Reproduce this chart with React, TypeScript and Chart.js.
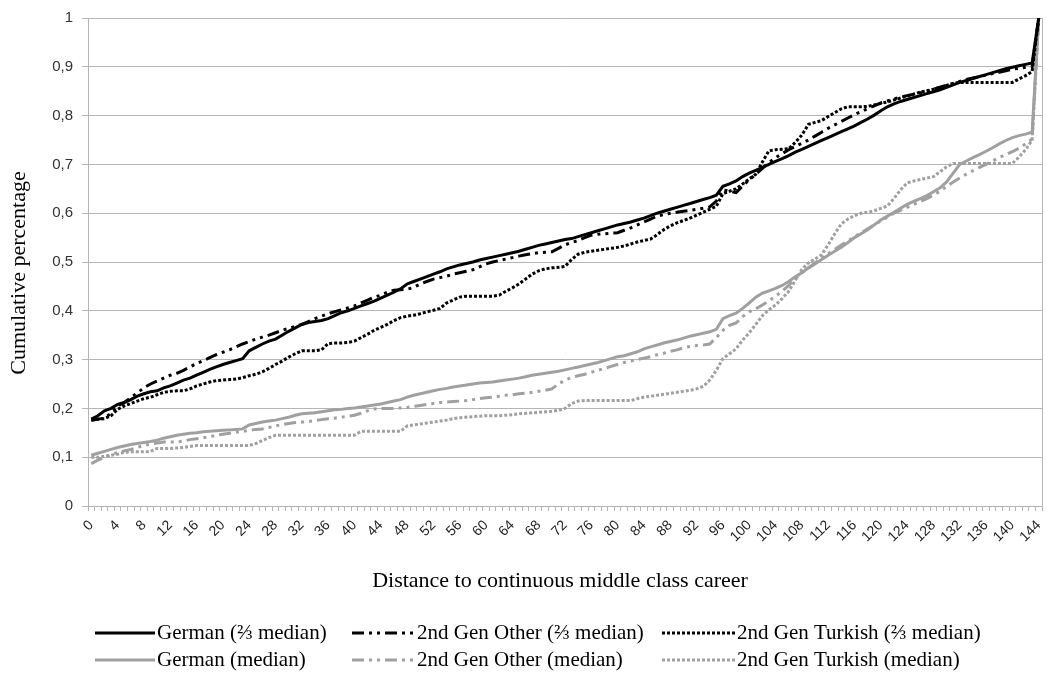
import React, { useEffect, useRef } from 'react';
import { Chart, registerables } from 'chart.js';

Chart.register(...registerables);

const categories: string[] = Array.from({ length: 145 }, (_, i) => String(i));

const germanTwoThirds = [
  0.178, 0.185, 0.195, 0.2, 0.208, 0.212, 0.218, 0.225, 0.23, 0.234,
  0.236, 0.242, 0.246, 0.252, 0.258, 0.262, 0.268, 0.274, 0.28, 0.285,
  0.29, 0.294, 0.298, 0.302, 0.318, 0.325, 0.332, 0.338, 0.342, 0.35,
  0.358, 0.365, 0.372, 0.376, 0.378, 0.38, 0.384, 0.39, 0.396, 0.4,
  0.405, 0.41, 0.415, 0.42, 0.426, 0.432, 0.438, 0.445, 0.455, 0.46,
  0.465, 0.47, 0.475, 0.48, 0.486, 0.49, 0.494, 0.497, 0.5, 0.504,
  0.507, 0.51, 0.513, 0.516, 0.519, 0.522, 0.526, 0.53, 0.534, 0.537,
  0.54, 0.543, 0.546, 0.548, 0.552, 0.556, 0.56, 0.564, 0.568, 0.572,
  0.576, 0.579, 0.582, 0.586, 0.59, 0.595, 0.6, 0.604, 0.608, 0.612,
  0.616, 0.62, 0.624, 0.628, 0.632, 0.637, 0.655, 0.66, 0.666, 0.675,
  0.682, 0.688, 0.694, 0.7, 0.706, 0.712, 0.718, 0.725, 0.731, 0.737,
  0.743, 0.749, 0.755, 0.761, 0.767, 0.773, 0.779, 0.786, 0.793, 0.801,
  0.81, 0.818, 0.824, 0.829, 0.833, 0.837, 0.841, 0.845, 0.849, 0.853,
  0.858, 0.863, 0.868, 0.872, 0.876, 0.88, 0.884, 0.888, 0.892, 0.896,
  0.899, 0.902, 0.905, 0.908, 1.0,
];

const otherTwoThirds = [
  0.175, 0.178, 0.18, 0.19, 0.205, 0.212, 0.222, 0.232, 0.242, 0.25,
  0.256, 0.262, 0.268, 0.272, 0.278, 0.285, 0.292, 0.298, 0.304, 0.31,
  0.315, 0.32, 0.326, 0.332, 0.337, 0.342, 0.346, 0.35, 0.355, 0.36,
  0.364, 0.368, 0.372, 0.378, 0.384, 0.389, 0.394, 0.398, 0.402, 0.406,
  0.41, 0.416, 0.422, 0.428, 0.432, 0.438, 0.442, 0.443, 0.444, 0.448,
  0.455, 0.46, 0.465, 0.468, 0.471, 0.475, 0.478, 0.481, 0.484, 0.49,
  0.496, 0.5, 0.503, 0.506, 0.509, 0.512, 0.515, 0.517, 0.519, 0.52,
  0.521, 0.528, 0.535, 0.54, 0.544, 0.55, 0.555, 0.557, 0.558, 0.559,
  0.56, 0.565, 0.57, 0.576, 0.582, 0.588, 0.594, 0.597, 0.6, 0.602,
  0.604, 0.606, 0.608, 0.61, 0.613, 0.625, 0.648, 0.645, 0.642, 0.656,
  0.668, 0.68, 0.692, 0.704, 0.714, 0.722, 0.73, 0.737, 0.743, 0.75,
  0.758, 0.766, 0.774, 0.781, 0.788, 0.795, 0.802, 0.808, 0.814, 0.82,
  0.826, 0.83, 0.834, 0.838, 0.841, 0.844, 0.847, 0.85, 0.854, 0.858,
  0.862, 0.866, 0.87, 0.874, 0.877, 0.88, 0.883, 0.886, 0.889, 0.892,
  0.895, 0.897, 0.899, 0.9, 1.0,
];

const turkishTwoThirds = [
  0.178, 0.178, 0.179, 0.185, 0.198, 0.205, 0.21, 0.215, 0.22, 0.223,
  0.228, 0.233, 0.235, 0.236, 0.236, 0.24, 0.246, 0.25, 0.254, 0.257,
  0.258, 0.259, 0.26, 0.263, 0.267, 0.27, 0.275, 0.282, 0.29, 0.297,
  0.305, 0.312, 0.318, 0.318, 0.318, 0.32, 0.333, 0.334, 0.334, 0.335,
  0.338, 0.345, 0.352, 0.36, 0.366, 0.372, 0.38, 0.386, 0.389, 0.391,
  0.394, 0.398, 0.401, 0.405, 0.416, 0.422, 0.428, 0.43, 0.43, 0.43,
  0.43, 0.43, 0.432, 0.44, 0.447, 0.455, 0.465, 0.475, 0.482, 0.486,
  0.488, 0.489, 0.491, 0.505, 0.516, 0.52, 0.522, 0.524, 0.526, 0.528,
  0.53, 0.533, 0.537, 0.541, 0.544, 0.547, 0.556, 0.566, 0.574, 0.58,
  0.585, 0.59, 0.596, 0.602, 0.608, 0.614, 0.64, 0.645, 0.65, 0.66,
  0.67, 0.68, 0.705, 0.728, 0.73, 0.731, 0.732, 0.745, 0.76, 0.782,
  0.786, 0.79, 0.798, 0.806, 0.814, 0.818, 0.818, 0.818, 0.819, 0.822,
  0.825, 0.828, 0.832, 0.836, 0.84, 0.844, 0.848, 0.851, 0.854, 0.858,
  0.862, 0.866, 0.868, 0.868, 0.868, 0.868, 0.868, 0.868, 0.868, 0.868,
  0.868, 0.875, 0.882, 0.89, 1.0,
];

const germanMedian = [
  0.104, 0.108, 0.112, 0.116, 0.12, 0.123, 0.126, 0.128, 0.13, 0.132,
  0.135, 0.139, 0.142, 0.145, 0.147, 0.149, 0.15, 0.152, 0.153, 0.154,
  0.155, 0.156, 0.157, 0.158, 0.166, 0.169, 0.172, 0.174, 0.176, 0.179,
  0.182, 0.186, 0.189, 0.19, 0.191, 0.193, 0.195, 0.197, 0.198, 0.2,
  0.201, 0.203, 0.205, 0.207, 0.209, 0.212, 0.215, 0.218, 0.223, 0.227,
  0.23, 0.233, 0.236, 0.239, 0.241, 0.244, 0.246, 0.248, 0.25, 0.252,
  0.253, 0.254, 0.256, 0.258, 0.26, 0.262, 0.265, 0.268, 0.27, 0.272,
  0.274, 0.276, 0.279, 0.282, 0.285, 0.288, 0.291, 0.294, 0.298, 0.302,
  0.306, 0.308, 0.312, 0.316, 0.322, 0.326, 0.33, 0.334, 0.337, 0.34,
  0.344, 0.348, 0.351, 0.354, 0.357, 0.362, 0.384, 0.39, 0.395, 0.405,
  0.416, 0.428, 0.436, 0.441, 0.446, 0.452, 0.46, 0.47, 0.478, 0.488,
  0.496, 0.505, 0.514, 0.522, 0.53, 0.54, 0.55, 0.558, 0.566, 0.576,
  0.586, 0.594, 0.602, 0.61, 0.618, 0.624, 0.63, 0.636, 0.644, 0.652,
  0.664, 0.682, 0.7, 0.707, 0.714, 0.72, 0.727, 0.734, 0.742, 0.749,
  0.755, 0.759, 0.762, 0.766, 1.0,
];

const otherMedian = [
  0.087, 0.094, 0.1, 0.105, 0.11, 0.113, 0.116, 0.12, 0.124, 0.127,
  0.129, 0.131, 0.131, 0.131, 0.133, 0.136, 0.138, 0.14, 0.142, 0.145,
  0.147, 0.149, 0.151, 0.153, 0.155, 0.157, 0.158, 0.161, 0.164, 0.167,
  0.169, 0.171, 0.172, 0.173, 0.175, 0.177, 0.179, 0.18, 0.182, 0.184,
  0.186, 0.19, 0.195, 0.199, 0.2, 0.2, 0.2, 0.201, 0.202, 0.204,
  0.206, 0.208, 0.21, 0.212, 0.213, 0.214, 0.215, 0.216, 0.218, 0.22,
  0.222, 0.223, 0.225, 0.227, 0.228, 0.23, 0.231, 0.233, 0.235, 0.237,
  0.24, 0.25, 0.258, 0.263, 0.267, 0.27, 0.274, 0.278, 0.282, 0.286,
  0.29, 0.294, 0.297, 0.3, 0.303, 0.306, 0.31, 0.313, 0.317, 0.32,
  0.324, 0.327, 0.329, 0.33, 0.332, 0.345, 0.36, 0.37, 0.375, 0.388,
  0.398, 0.404, 0.412, 0.42, 0.43, 0.44, 0.452, 0.466, 0.478, 0.488,
  0.498, 0.508, 0.517, 0.526, 0.535, 0.543, 0.552, 0.56, 0.568, 0.576,
  0.584, 0.592, 0.6, 0.606, 0.612, 0.618, 0.624, 0.63, 0.637, 0.645,
  0.655, 0.664, 0.672, 0.68, 0.687, 0.694, 0.7, 0.707, 0.714, 0.72,
  0.726, 0.733, 0.742, 0.752, 1.0,
];

const turkishMedian = [
  0.1, 0.1, 0.102, 0.104, 0.106, 0.11, 0.111, 0.111, 0.111, 0.112,
  0.118, 0.118, 0.118, 0.119, 0.12, 0.122, 0.124, 0.124, 0.124, 0.124,
  0.124, 0.124, 0.124, 0.124, 0.124, 0.128, 0.134, 0.14, 0.145, 0.145,
  0.145, 0.145, 0.145, 0.145, 0.145, 0.145, 0.145, 0.145, 0.145, 0.145,
  0.145, 0.153, 0.153, 0.153, 0.153, 0.153, 0.153, 0.153, 0.164, 0.166,
  0.168, 0.17, 0.172, 0.174, 0.176, 0.179, 0.181, 0.182, 0.183, 0.184,
  0.185, 0.185, 0.185, 0.186, 0.187, 0.189, 0.19, 0.191, 0.192, 0.193,
  0.194, 0.196, 0.2, 0.21, 0.215, 0.216, 0.216, 0.216, 0.216, 0.216,
  0.216, 0.216, 0.216, 0.22, 0.223, 0.225, 0.227, 0.229, 0.231, 0.233,
  0.235, 0.237, 0.24, 0.245, 0.258, 0.278, 0.302, 0.312, 0.322, 0.34,
  0.355, 0.372, 0.39, 0.402, 0.412, 0.425, 0.44, 0.462, 0.485, 0.498,
  0.506, 0.515, 0.535, 0.558, 0.578, 0.588, 0.595, 0.6, 0.602, 0.605,
  0.61, 0.615, 0.63, 0.648, 0.662, 0.666, 0.669, 0.672, 0.675, 0.685,
  0.695, 0.702, 0.702, 0.702, 0.702, 0.702, 0.702, 0.702, 0.702, 0.702,
  0.702, 0.715, 0.73, 0.75, 1.0,
];

const seriesLabels = [
  'German (⅔ median)',
  '2nd Gen Other (⅔ median)',
  '2nd Gen Turkish (⅔ median)',
  'German (median)',
  '2nd Gen Other (median)',
  '2nd Gen Turkish (median)',
];

const yAxisTitle = 'Cumulative percentage';
const xAxisTitle = 'Distance to continuous middle class career';

const BLACK = '#000000';
const GREY = '#a0a0a0';
const GRID = '#b5b5b5';
const DASH_DOT = [12, 5, 3, 5, 3, 5];
const DOTTED = [3, 2];
const SERIF = '"Liberation Serif", "Times New Roman", serif';
const SANS = '"Liberation Sans", Arial, sans-serif';

const fmtComma = (v: number) => {
  const r = Math.round(v * 10) / 10;
  return String(r).replace('.', ',');
};

const overlayPlugin = {
  id: 'overlay',
  afterDraw(chart: any) {
    const { ctx, chartArea } = chart;
    ctx.save();
    // right border of plot area
    ctx.strokeStyle = GRID;
    ctx.lineWidth = 1;
    ctx.setLineDash([]);
    ctx.beginPath();
    ctx.moveTo(chartArea.right + 0.5, chartArea.top);
    ctx.lineTo(chartArea.right + 0.5, chartArea.bottom);
    ctx.stroke();

    // axis titles
    ctx.fillStyle = '#000';
    ctx.font = `22px ${SERIF}`;
    ctx.textAlign = 'center';
    ctx.textBaseline = 'middle';
    ctx.fillText(xAxisTitle, 560, 581);
    ctx.save();
    ctx.translate(19, 273);
    ctx.rotate(-Math.PI / 2);
    ctx.fillText(yAxisTitle, 0, 0);
    ctx.restore();

    // legend
    ctx.font = `21px ${SERIF}`;
    const lineStart = [95, 352, 662];
    const lineEnd = [155, 415, 735];
    const rowY = [633, 660];
    chart.data.datasets.forEach((ds: any, i: number) => {
      const col = i % 3;
      const row = Math.floor(i / 3);
      const y = rowY[row];
      ctx.strokeStyle = ds.borderColor;
      ctx.lineWidth = ds.borderWidth;
      ctx.setLineDash(ds.borderDash || []);
      ctx.beginPath();
      ctx.moveTo(lineStart[col], y);
      ctx.lineTo(lineEnd[col], y);
      ctx.stroke();
      ctx.setLineDash([]);
      ctx.fillStyle = '#000';
      ctx.textAlign = 'left';
      ctx.fillText(ds.label, lineEnd[col] + 2, y);
    });
    ctx.restore();
  },
};

export default function App() {
  const canvasRef = useRef<HTMLCanvasElement | null>(null);

  useEffect(() => {
    if (!canvasRef.current) return;
    const seriesValues = [
      germanTwoThirds,
      otherTwoThirds,
      turkishTwoThirds,
      germanMedian,
      otherMedian,
      turkishMedian,
    ];
    const colors = [BLACK, BLACK, BLACK, GREY, GREY, GREY];
    const dashes = [[], DASH_DOT, DOTTED, [], DASH_DOT, DOTTED];
    const chart = new Chart(canvasRef.current, {
      type: 'line',
      data: {
        labels: categories,
        datasets: seriesValues.map((vals, i) => ({
          label: seriesLabels[i],
          data: vals,
          borderColor: colors[i],
          backgroundColor: colors[i],
          borderWidth: 3,
          borderDash: dashes[i],
          pointRadius: 0,
          fill: false,
          tension: 0,
        })),
      },
      options: {
        responsive: false,
        animation: false,
        layout: { padding: { left: 0, right: 5, top: 15, bottom: 83 } },
        plugins: {
          legend: { display: false },
          tooltip: { enabled: false },
        },
        scales: {
          x: {
            type: 'category',
            offset: true,
            ticks: {
              autoSkip: false,
              minRotation: 45,
              maxRotation: 45,
              padding: 6,
              color: '#222',
              font: { family: SANS, size: 14 },
              callback: (_v: any, i: number) => (i % 4 === 0 ? categories[i] : ''),
            },
            grid: { drawOnChartArea: false, tickLength: 5, color: GRID, offset: true },
            border: { color: GRID },
            afterFit: (s: any) => {
              s.height = 85;
              s.paddingLeft = 0;
              s.paddingRight = 0;
            },
          },
          y: {
            min: 0,
            max: 1,
            ticks: {
              stepSize: 0.1,
              padding: 9,
              color: '#333',
              font: { family: SANS, size: 15 },
              callback: (v: any) => fmtComma(Number(v)),
            },
            grid: { color: GRID, tickLength: 6 },
            border: { color: GRID },
            afterFit: (s: any) => {
              s.width = 88;
            },
          },
        },
      },
      plugins: [overlayPlugin],
    });
    return () => chart.destroy();
  }, []);

  return (
    <div style={{ position: 'fixed', left: 0, top: 0, width: 1047, height: 674, background: '#fff' }}>
      <canvas ref={canvasRef} width={1047} height={674} style={{ display: 'block' }} />
    </div>
  );
}
